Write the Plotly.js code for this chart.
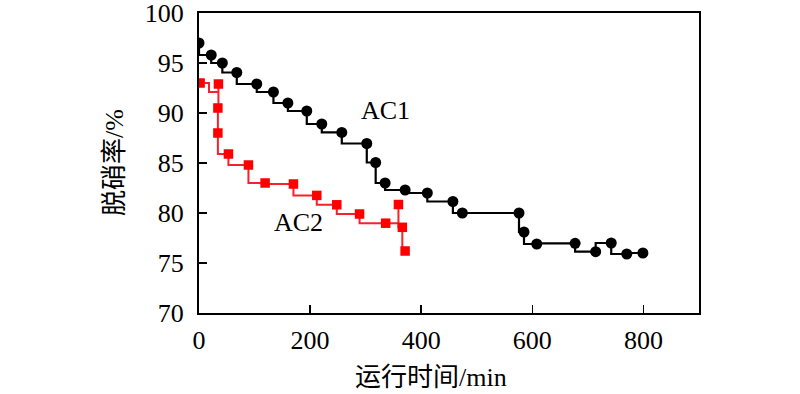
<!DOCTYPE html>
<html>
<head>
<meta charset="utf-8">
<script src="https://cdn.plot.ly/plotly-3.0.1.min.js"></script>
<style>html,body{margin:0;padding:0;background:#fff;}#chart{width:800px;height:394px;}</style>
</head>
<body>
<div id="chart"></div>
<script>
// AC1 measured points (time in min, denitration rate in %)
const ac1Time = [0, 22, 42, 68, 104, 134, 160, 194, 221, 257, 302, 318, 335, 371, 411, 457, 474, 576, 585, 608, 677, 714, 742, 770, 799];
const ac1Rate = [97.0, 95.8, 95.0, 94.05, 92.9, 92.1, 91.0, 90.2, 88.9, 88.06, 86.95, 85.05, 83.0, 82.3, 82.0, 81.15, 80.0, 80.0, 78.1, 76.9, 76.97, 76.13, 77.0, 75.9, 76.0];

// AC2 measured points
const ac2Time = [2, 35, 34, 34, 53, 89, 119, 170, 212, 248, 289, 336, 359, 366, 371];
const ac2Rate = [93.0, 92.9, 90.5, 88.0, 85.9, 84.8, 83.0, 82.9, 81.76, 80.82, 79.9, 78.98, 80.85, 78.57, 76.2];

// stepped trace of the AC2 record (includes short dips between markers)
const ac2LineTime = [2, 18, 35, 35, 34, 34, 53, 89, 119, 170, 212, 248, 289, 336, 359, 359, 366, 371];
const ac2LineRate = [93.0, 93.0, 92.1, 92.9, 90.5, 88.0, 85.9, 84.8, 83.0, 82.9, 81.76, 80.82, 79.9, 78.98, 78.98, 80.85, 78.57, 76.2];

const xTicks = [0, 200, 400, 600, 800];
const yTicks = [70, 75, 80, 85, 90, 95, 100];

const FONT = 'Liberation Serif, Noto Sans CJK SC';

const traces = [
  {
    x: ac1Time, y: ac1Rate, type: 'scatter', mode: 'lines+markers',
    line: {color: '#000000', width: 2.2, shape: 'vh'},
    marker: {symbol: 'circle', size: 11, color: '#000000'},
    hoverinfo: 'skip', showlegend: false
  },
  {
    x: ac2LineTime, y: ac2LineRate, type: 'scatter', mode: 'lines',
    line: {color: '#f5222d', width: 2, shape: 'vh'},
    hoverinfo: 'skip', showlegend: false
  },
  {
    x: ac2Time, y: ac2Rate, type: 'scatter', mode: 'markers',
    marker: {symbol: 'square', size: 9.5, color: '#ff0000'},
    hoverinfo: 'skip', showlegend: false
  }
];

const axisCommon = {
  showgrid: false, zeroline: false,
  showline: true, linecolor: '#000', linewidth: 2, mirror: true,
  ticks: 'inside', ticklen: 8, tickwidth: 1.6, tickcolor: '#000',
  ticklabeloverflow: 'allow',
  tickfont: {family: FONT, size: 26, color: '#000'}
};

const layout = {
  width: 800, height: 394,
  margin: {l: 199, r: 101, t: 13, b: 81, pad: 0},
  paper_bgcolor: '#fff', plot_bgcolor: '#fff',
  showlegend: false,
  font: {family: FONT},
  xaxis: Object.assign({}, axisCommon, {
    range: [0, 900], tickmode: 'array', tickvals: xTicks, ticktext: xTicks.map(String),
    ticklabelstandoff: 3
  }),
  yaxis: Object.assign({}, axisCommon, {
    range: [70, 100], tickmode: 'array', tickvals: yTicks, ticktext: yTicks.map(String),
    ticklabelstandoff: 8
  }),
  annotations: [
    {text: '运行时间/min', xref: 'x', yref: 'paper', x: 418, y: -0.215, xanchor: 'center', yanchor: 'middle',
     showarrow: false, font: {family: FONT, size: 26, color: '#000'}},
    {text: '脱硝率/%', xref: 'paper', yref: 'paper', x: -0.17, y: 0.5, xanchor: 'center', yanchor: 'middle',
     textangle: -90, showarrow: false, font: {family: FONT, size: 26, color: '#000'}},
    {text: 'AC1', xref: 'x', yref: 'y', x: 335, y: 90.3, xanchor: 'center', yanchor: 'middle',
     showarrow: false, font: {family: FONT, size: 26, color: '#000'}},
    {text: 'AC2', xref: 'x', yref: 'y', x: 178.5, y: 79.05, xanchor: 'center', yanchor: 'middle',
     showarrow: false, font: {family: FONT, size: 26, color: '#000'}}
  ]
};

Plotly.newPlot('chart', traces, layout, {staticPlot: true, displayModeBar: false});
</script>
</body>
</html>
